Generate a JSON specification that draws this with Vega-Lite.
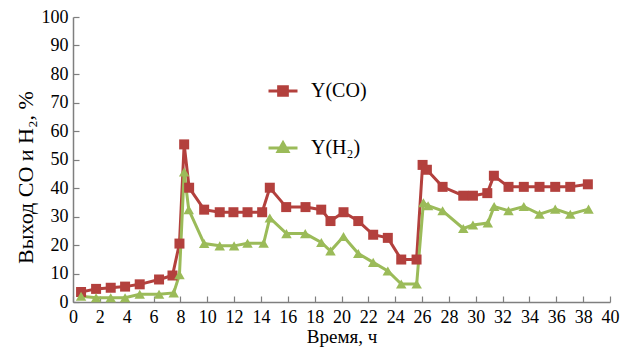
{
  "$schema": "https://vega.github.io/schema/vega-lite/v6.json",
  "width": 537,
  "height": 285,
  "autosize": "none",
  "padding": {"left": 73, "top": 17, "right": 27, "bottom": 58},
  "background": "white",
  "config": {
    "view": {"stroke": null},
    "font": "Liberation Serif",
    "axis": {
      "domainColor": "#7f7f7f",
      "tickColor": "#7f7f7f",
      "domainWidth": 1.5,
      "tickWidth": 1.2,
      "grid": false,
      "labelFont": "Liberation Serif",
      "labelFontSize": 18,
      "labelColor": "black",
      "titleFont": "Liberation Serif",
      "titleFontSize": 19,
      "titleFontWeight": "normal",
      "titleColor": "black"
    }
  },
  "data": {
    "values": [
      {"t": 0.6, "s": "Y(CO)", "v": 3.5},
      {"t": 1.72, "s": "Y(CO)", "v": 4.6},
      {"t": 2.81, "s": "Y(CO)", "v": 5.0},
      {"t": 3.88, "s": "Y(CO)", "v": 5.4},
      {"t": 4.97, "s": "Y(CO)", "v": 6.2},
      {"t": 6.41, "s": "Y(CO)", "v": 7.9},
      {"t": 7.41, "s": "Y(CO)", "v": 9.3},
      {"t": 7.93, "s": "Y(CO)", "v": 20.5},
      {"t": 8.28, "s": "Y(CO)", "v": 55.3},
      {"t": 8.65, "s": "Y(CO)", "v": 40.1},
      {"t": 9.77, "s": "Y(CO)", "v": 32.4},
      {"t": 10.93, "s": "Y(CO)", "v": 31.5},
      {"t": 11.95, "s": "Y(CO)", "v": 31.5},
      {"t": 13.0, "s": "Y(CO)", "v": 31.5},
      {"t": 14.09, "s": "Y(CO)", "v": 31.5},
      {"t": 14.66, "s": "Y(CO)", "v": 40.1},
      {"t": 15.88, "s": "Y(CO)", "v": 33.3},
      {"t": 17.32, "s": "Y(CO)", "v": 33.3},
      {"t": 18.49, "s": "Y(CO)", "v": 32.4},
      {"t": 19.18, "s": "Y(CO)", "v": 28.4},
      {"t": 20.15, "s": "Y(CO)", "v": 31.5},
      {"t": 21.25, "s": "Y(CO)", "v": 28.4},
      {"t": 22.36, "s": "Y(CO)", "v": 23.6},
      {"t": 23.45, "s": "Y(CO)", "v": 22.5},
      {"t": 24.45, "s": "Y(CO)", "v": 14.9},
      {"t": 25.59, "s": "Y(CO)", "v": 14.9},
      {"t": 26.04, "s": "Y(CO)", "v": 48.1},
      {"t": 26.36, "s": "Y(CO)", "v": 46.4},
      {"t": 27.53, "s": "Y(CO)", "v": 40.4},
      {"t": 29.07, "s": "Y(CO)", "v": 37.3},
      {"t": 29.79, "s": "Y(CO)", "v": 37.3},
      {"t": 30.86, "s": "Y(CO)", "v": 38.2},
      {"t": 31.35, "s": "Y(CO)", "v": 44.3},
      {"t": 32.44, "s": "Y(CO)", "v": 40.4},
      {"t": 33.58, "s": "Y(CO)", "v": 40.4},
      {"t": 34.75, "s": "Y(CO)", "v": 40.4},
      {"t": 35.92, "s": "Y(CO)", "v": 40.4},
      {"t": 37.04, "s": "Y(CO)", "v": 40.4},
      {"t": 38.35, "s": "Y(CO)", "v": 41.3},
      {"t": 0.6, "s": "Y(H₂)", "v": 2.0},
      {"t": 1.72, "s": "Y(H₂)", "v": 1.5},
      {"t": 2.81, "s": "Y(H₂)", "v": 1.5},
      {"t": 3.88, "s": "Y(H₂)", "v": 1.5},
      {"t": 4.97, "s": "Y(H₂)", "v": 2.7},
      {"t": 6.41, "s": "Y(H₂)", "v": 2.7},
      {"t": 7.5, "s": "Y(H₂)", "v": 3.2},
      {"t": 7.93, "s": "Y(H₂)", "v": 9.6},
      {"t": 8.28, "s": "Y(H₂)", "v": 45.6},
      {"t": 8.62, "s": "Y(H₂)", "v": 32.4},
      {"t": 9.77, "s": "Y(H₂)", "v": 20.5},
      {"t": 10.93, "s": "Y(H₂)", "v": 19.7},
      {"t": 12.0, "s": "Y(H₂)", "v": 19.7},
      {"t": 13.0, "s": "Y(H₂)", "v": 20.6},
      {"t": 14.2, "s": "Y(H₂)", "v": 20.6},
      {"t": 14.66, "s": "Y(H₂)", "v": 29.5},
      {"t": 15.9, "s": "Y(H₂)", "v": 24.0},
      {"t": 17.3, "s": "Y(H₂)", "v": 24.0},
      {"t": 18.5, "s": "Y(H₂)", "v": 20.9},
      {"t": 19.18, "s": "Y(H₂)", "v": 17.9},
      {"t": 20.15, "s": "Y(H₂)", "v": 23.0},
      {"t": 21.25, "s": "Y(H₂)", "v": 17.0},
      {"t": 22.36, "s": "Y(H₂)", "v": 13.9},
      {"t": 23.45, "s": "Y(H₂)", "v": 10.9},
      {"t": 24.45, "s": "Y(H₂)", "v": 6.3},
      {"t": 25.6, "s": "Y(H₂)", "v": 6.3},
      {"t": 26.1, "s": "Y(H₂)", "v": 34.8},
      {"t": 26.45, "s": "Y(H₂)", "v": 33.8},
      {"t": 27.53, "s": "Y(H₂)", "v": 32.0},
      {"t": 29.07, "s": "Y(H₂)", "v": 25.8},
      {"t": 29.79, "s": "Y(H₂)", "v": 27.0},
      {"t": 30.9, "s": "Y(H₂)", "v": 27.7},
      {"t": 31.37, "s": "Y(H₂)", "v": 33.5},
      {"t": 32.44, "s": "Y(H₂)", "v": 32.0},
      {"t": 33.58, "s": "Y(H₂)", "v": 33.5},
      {"t": 34.75, "s": "Y(H₂)", "v": 30.8},
      {"t": 35.92, "s": "Y(H₂)", "v": 32.6},
      {"t": 37.04, "s": "Y(H₂)", "v": 30.8},
      {"t": 38.4, "s": "Y(H₂)", "v": 32.6}
    ]
  },
  "encoding": {
    "x": {
      "field": "t", "type": "quantitative",
      "scale": {"domain": [0, 40], "nice": false, "zero": false},
      "axis": {"values": [0,2,4,6,8,10,12,14,16,18,20,22,24,26,28,30,32,34,36,38,40], "tickSize": -6, "labelPadding": 12, "labelFont": "Liberation Serif", "labelFontSize": 18, "title": "Время, ч", "titlePadding": 1, "titleFontSize": 19, "labelFlush": false}
    },
    "y": {
      "field": "v", "type": "quantitative",
      "scale": {"domain": [0, 100], "nice": false},
      "axis": {"values": [0,10,20,30,40,50,60,70,80,90,100], "tickSize": -6, "labelPadding": 11, "labelFont": "Liberation Serif", "labelFontSize": 18, "title": "Выход CO и H₂, %", "titleFontSize": 22, "titlePadding": 4, "titleY": 160}
    },
    "color": {
      "field": "s", "type": "nominal",
      "scale": {"domain": ["Y(CO)", "Y(H₂)"], "range": ["#b3403d", "#9bbb59"]},
      "legend": {
        "orient": "none", "legendX": 194, "legendY": 58, "title": null,
        "labelFont": "Liberation Serif", "labelFontSize": 20, "labelColor": "black",
        "symbolSize": 841, "symbolStrokeWidth": 3, "rowPadding": 30, "labelOffset": 12,
        "symbolType": "M-1,0H1M-0.3,-0.3H0.3V0.3H-0.3Z",
        "encode": {"symbols": {"update": {"shape": {"signal": "datum.value === 'Y(CO)' ? 'M-1,0H1M-0.3,-0.3H0.3V0.3H-0.3Z' : 'M-1,0H1M0,-0.36L0.34,0.24L-0.34,0.24Z'"}}}}
      }
    }
  },
  "layer": [
    {"mark": {"type": "line", "strokeWidth": 3}},
    {
      "transform": [{"filter": "datum.s === 'Y(CO)'"}],
      "mark": {"type": "point", "shape": "square", "filled": true, "opacity": 1, "size": 100}
    },
    {
      "transform": [{"filter": "datum.s !== 'Y(CO)'"}],
      "mark": {"type": "point", "shape": "triangle-up", "filled": true, "opacity": 1, "size": 110}
    }
  ]
}
